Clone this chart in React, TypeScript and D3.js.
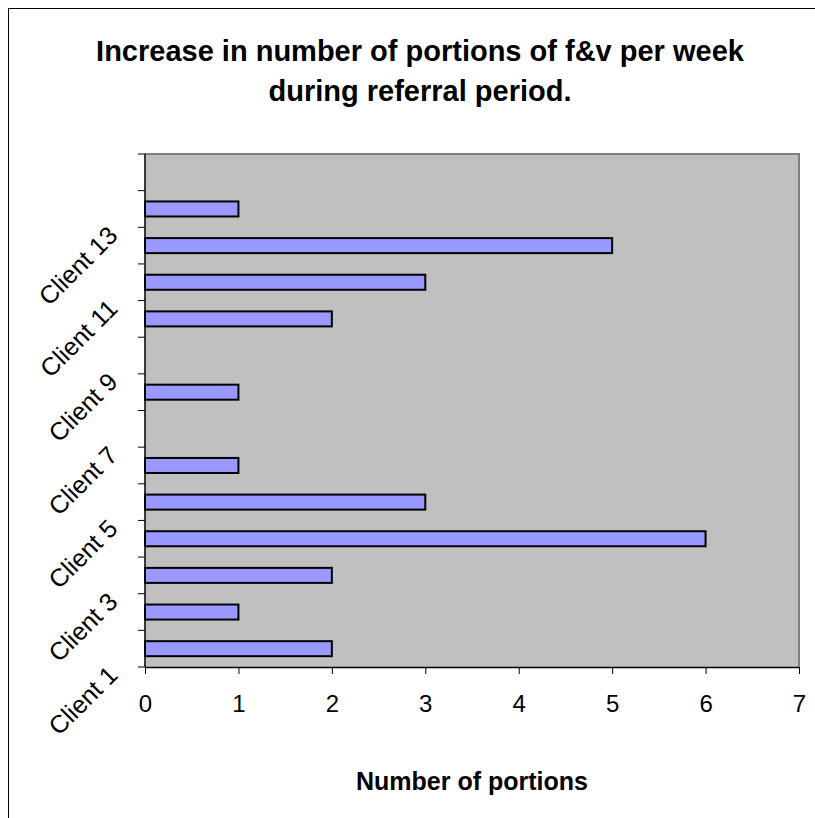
import React, { useRef, useEffect } from 'react'
import * as d3 from 'd3'

// chart data
const clients = [
  'Client 1', 'Client 2', 'Client 3', 'Client 4', 'Client 5', 'Client 6', 'Client 7',
  'Client 8', 'Client 9', 'Client 10', 'Client 11', 'Client 12', 'Client 13', 'Client 14',
]
const portions = [2, 1, 2, 6, 3, 1, 0, 1, 0, 2, 3, 5, 1, 0]
const xTicks = [0, 1, 2, 3, 4, 5, 6, 7]
const titleLines = ['Increase in number of portions of f&v per week', 'during referral period.']
const xTitle = 'Number of portions'

const FONT = '"Liberation Sans", Arial, sans-serif'

function App() {
  const svgRef = useRef(null)

  useEffect(() => {
    const svg = d3.select(svgRef.current)
    svg.selectAll('*').remove()

    const width = 815
    const height = 818
    //plot area
    const plot = { left: 145, right: 799, top: 154, bottom: 667 }

    svg.attr('width', width).attr('height', height)

    //outer chart frame (runs off the right / bottom of the picture)
    svg
      .append('rect')
      .attr('x', 8.5)
      .attr('y', 8.5)
      .attr('width', 830)
      .attr('height', 830)
      .attr('fill', '#fff')
      .attr('stroke', '#000')
      .attr('stroke-width', 1)

    //Title
    const title = svg
      .append('text')
      .attr('text-anchor', 'middle')
      .attr('font-family', FONT)
      .attr('font-weight', 'bold')
      .attr('font-size', 29)
      .attr('fill', '#000')
    titleLines.forEach((line, i) => {
      title
        .append('tspan')
        .attr('x', 420)
        .attr('y', 61 + i * 40)
        .text(line)
    })

    //scales
    const x = d3.scaleLinear().domain([0, 7]).range([plot.left, plot.right])
    const y = d3
      .scaleBand<string>()
      .domain(clients)
      .range([plot.bottom, plot.top])
      .paddingInner(0.59)
      .paddingOuter(0.295)
    const step = y.step()

    //plot background
    svg
      .append('rect')
      .attr('x', plot.left)
      .attr('y', plot.top)
      .attr('width', plot.right - plot.left)
      .attr('height', plot.bottom - plot.top)
      .attr('fill', '#c0c0c0')

    //gray border on top and right
    svg
      .append('path')
      .attr('d', `M${plot.left},${plot.top}H${plot.right}V${plot.bottom}`)
      .attr('fill', 'none')
      .attr('stroke', '#808080')
      .attr('stroke-width', 2)

    //bars
    svg
      .append('g')
      .selectAll('rect')
      .data(clients.map((c, i) => ({ c, v: portions[i] })).filter((d) => d.v > 0))
      .join('rect')
      .attr('x', x(0))
      .attr('y', (d) => y(d.c) as number)
      .attr('width', (d) => x(d.v) - x(0))
      .attr('height', y.bandwidth())
      .attr('fill', '#9999ff')
      .attr('stroke', '#000')
      .attr('stroke-width', 2)

    //category axis
    const yAxis = svg.append('g')
    yAxis
      .append('line')
      .attr('x1', plot.left)
      .attr('x2', plot.left)
      .attr('y1', plot.top)
      .attr('y2', plot.bottom)
      .attr('stroke', '#000')
      .attr('stroke-width', 1.5)
    d3.range(clients.length + 1).forEach((i) => {
      const ty = plot.bottom - i * step
      yAxis
        .append('line')
        .attr('x1', plot.left - 7)
        .attr('x2', plot.left)
        .attr('y1', ty)
        .attr('y2', ty)
        .attr('stroke', '#000')
        .attr('stroke-width', 1)
    })
    //only every other label is shown
    yAxis
      .selectAll('text')
      .data(clients.filter((_, i) => i % 2 === 0))
      .join('text')
      .attr('text-anchor', 'end')
      .attr('font-family', FONT)
      .attr('font-size', 25)
      .attr('fill', '#000')
      .attr('transform', (d) => {
        const cy = (y(d) as number) + y.bandwidth() / 2
        return `translate(119,${cy + 28}) rotate(-45)`
      })
      .text((d) => d)

    //value axis
    const xAxis = svg
      .append('g')
      .attr('transform', `translate(0,${plot.bottom})`)
      .call(
        d3
          .axisBottom(x)
          .tickValues(xTicks)
          .tickFormat(d3.format('d'))
          .tickSize(7)
          .tickPadding(21)
          .tickSizeOuter(0)
      )
    xAxis.select('.domain').attr('stroke', '#000').attr('stroke-width', 1.5)
    xAxis.selectAll('.tick line').attr('stroke', '#000')
    xAxis
      .selectAll('.tick text')
      .attr('font-family', FONT)
      .attr('font-size', 24)
      .attr('fill', '#000')

    //axis title
    svg
      .append('text')
      .attr('x', (plot.left + plot.right) / 2)
      .attr('y', 790)
      .attr('text-anchor', 'middle')
      .attr('font-family', FONT)
      .attr('font-weight', 'bold')
      .attr('font-size', 25)
      .attr('fill', '#000')
      .text(xTitle)
  }, [])

  return (
    <svg
      ref={svgRef}
      style={{ position: 'absolute', left: 0, top: 0, display: 'block' }}
    />
  )
}

export default App
